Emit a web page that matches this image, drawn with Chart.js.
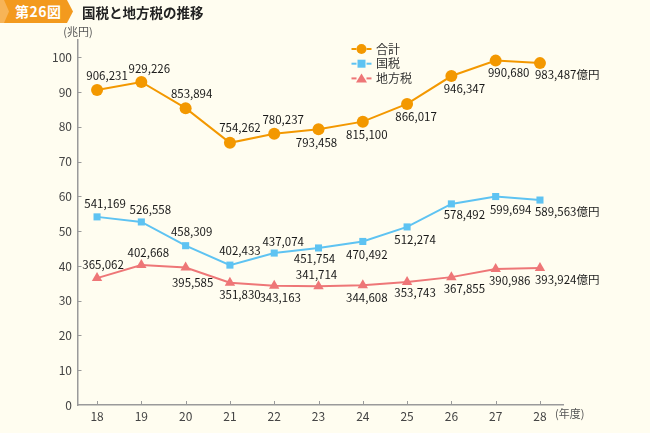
<!DOCTYPE html>
<html lang="ja">
<head>
<meta charset="utf-8">
<script src="https://cdn.jsdelivr.net/npm/chart.js@4.4.1/dist/chart.umd.min.js"></script>
<style>
  html, body { margin: 0; padding: 0; background: #FFFDF0; }
  #wrap { position: relative; width: 650px; height: 433px; overflow: hidden; background: #FFFDF0; font-family: "Noto Sans CJK JP", "Noto Sans", sans-serif; }
  #banner { position: absolute; left: 0; top: 0; width: 73px; height: 23px; background: #F39A1E;
    clip-path: polygon(0 0, 67px 0, 73px 11.5px, 67px 23px, 0 23px); }
  #banner .chev { position: absolute; left: 0; top: 0; width: 10px; height: 23px; background: #F7B457;
    clip-path: polygon(0 0, 4px 0, 9px 11.5px, 4px 23px, 0 23px); }
  #banner span { position: absolute; left: 15px; top: 0; line-height: 23px; color: #fff; font-weight: bold; font-size: 14px; letter-spacing: 0.5px; }
  #title { position: absolute; left: 82px; top: 0; line-height: 24px; font-size: 13.5px; font-weight: bold; color: #222; }
  canvas { position: absolute; left: 0; top: 0; }
</style>
</head>
<body>
<div id="wrap">
  <canvas id="c" width="650" height="433"></canvas>
  <div id="banner"><div class="chev"></div><span>第26図</span></div>
  <div id="title">国税と地方税の推移</div>
</div>
<script>
// ---- data (億円) ----
const years = [18, 19, 20, 21, 22, 23, 24, 25, 26, 27, 28];
const totalTax = [906231, 929226, 853894, 754262, 780237, 793458, 815100, 866017, 946347, 990680, 983487];
const nationalTax = [541169, 526558, 458309, 402433, 437074, 451754, 470492, 512274, 578492, 599694, 589563];
const localTax = [365062, 402668, 395585, 351830, 343163, 341714, 344608, 353743, 367855, 390986, 393924];
const seriesNames = ['合計', '国税', '地方税'];
const yTickValues = [0, 10, 20, 30, 40, 50, 60, 70, 80, 90, 100]; // 兆円
const yUnit = '(兆円)';
const xUnit = '(年度)';
const lastSuffix = '億円';

// ---- label placement (offsets from point, px) ----
const labelOffsets = [
  [[10,-14],[8,-13],[6,-15],[10,-15],[9,-14],[-2,13],[4,13],[9,13],[13,13],[13,12],null],
  [[8,-13],[9,-12],[6,-14],[10,-14],[9,-11],[-4,11],[4,13],[8,13],[13,11],[15,13],null],
  [[6,-13],[7,-12],[7,15],[10,12],[6,12],[-2,-12],[4,12],[8,11],[13,11],[14,12],null]
];

const colors = ['#F39800', '#5EC3F2', '#EE7677'];
const FONT = '"Noto Sans CJK JP", "Noto Sans", sans-serif';

function toPts(arr) { return years.map((y, i) => ({ x: y, y: arr[i] })); }

const labelPlugin = {
  id: 'labels',
  afterDatasetsDraw(chart) {
    const ctx = chart.ctx;
    ctx.save();
    ctx.font = '11.5px ' + FONT;
    ctx.fillStyle = '#1a1a1a';
    ctx.textBaseline = 'middle';
    chart.data.datasets.forEach((ds, di) => {
      const meta = chart.getDatasetMeta(di);
      meta.data.forEach((pt, i) => {
        const v = ds.data[i].y;
        const txt = v.toLocaleString('en-US');
        const off = labelOffsets[di][i];
        if (off) {
          ctx.textAlign = 'center';
          ctx.fillText(txt, pt.x + off[0], pt.y + off[1]);
        } else {
          ctx.textAlign = 'left';
          ctx.fillText(txt + lastSuffix, pt.x - 5, pt.y + 12);
        }
      });
    });
    ctx.restore();
  },
  afterDraw(chart) {
    const ctx = chart.ctx;
    const xs = chart.scales.x, ys = chart.scales.y;
    ctx.save();
    // tick marks (inside)
    ctx.strokeStyle = '#9a9a9a';
    ctx.lineWidth = 1;
    yTickValues.forEach(v => {
      if (v === 0) return;
      const py = Math.round(ys.getPixelForValue(v * 10000)) + 0.5;
      ctx.beginPath(); ctx.moveTo(xs.left, py); ctx.lineTo(xs.left + 3.5, py); ctx.stroke();
    });
    years.forEach(v => {
      const px = Math.round(xs.getPixelForValue(v)) + 0.5;
      ctx.beginPath(); ctx.moveTo(px, ys.bottom); ctx.lineTo(px, ys.bottom - 4); ctx.stroke();
    });
    // units
    ctx.font = '11px ' + FONT;
    ctx.fillStyle = '#555';
    ctx.textBaseline = 'middle';
    ctx.textAlign = 'center';
    ctx.fillText(yUnit, 78, 32);
    ctx.textAlign = 'left';
    ctx.fillText(xUnit, 555, 414);
    // legend
    const lx = 361.5, ly0 = 49, step = 14.7;
    chart.data.datasets.forEach((ds, di) => {
      const y = ly0 + di * step;
      ctx.strokeStyle = ds.borderColor;
      ctx.lineWidth = 2;
      ctx.beginPath(); ctx.moveTo(lx - 10, y); ctx.lineTo(lx - 5, y); ctx.stroke();
      ctx.beginPath(); ctx.moveTo(lx + 5, y); ctx.lineTo(lx + 10, y); ctx.stroke();
      ctx.fillStyle = ds.borderColor;
      ctx.beginPath();
      if (di === 0) { ctx.arc(lx, y, 5, 0, Math.PI * 2); }
      else if (di === 1) { ctx.rect(lx - 4, y - 4, 8, 8); }
      else { ctx.moveTo(lx, y - 5); ctx.lineTo(lx + 5.5, y + 4); ctx.lineTo(lx - 5.5, y + 4); ctx.closePath(); }
      ctx.fill();
      ctx.fillStyle = '#333';
      ctx.font = '12px ' + FONT;
      ctx.textAlign = 'left';
      ctx.fillText(ds.label, 376, y);
    });
    ctx.restore();
  }
};

const mk = (label, arr, color, style, radius) => ({
  label, data: toPts(arr), borderColor: color, backgroundColor: color,
  pointBackgroundColor: color, pointBorderColor: color, pointBorderWidth: 0,
  pointStyle: style, pointRadius: radius, pointHoverRadius: radius,
  borderWidth: 2, tension: 0, clip: false
});

new Chart(document.getElementById('c'), {
  type: 'line',
  data: {
    datasets: [
      mk(seriesNames[0], totalTax, colors[0], 'circle', 6),
      mk(seriesNames[1], nationalTax, colors[1], 'rect', 5),
      mk(seriesNames[2], localTax, colors[2], 'triangle', 6)
    ]
  },
  options: {
    responsive: false,
    animation: false,
    events: [],
    layout: { padding: { left: 0, top: 40, right: 87, bottom: 0 } },
    plugins: { legend: { display: false }, tooltip: { enabled: false } },
    scales: {
      x: {
        type: 'linear', min: 17.57, max: 28.52,
        afterBuildTicks: s => { s.ticks = years.map(v => ({ value: v })); },
        afterFit: s => { s.height = 28; },
        grid: { display: false, drawTicks: false },
        border: { display: true, color: '#9a9a9a', width: 1.5 },
        ticks: { padding: 4, color: '#444', font: { family: FONT, size: 12 }, maxRotation: 0, autoSkip: false,
                 callback: v => String(v) }
      },
      y: {
        type: 'linear', min: 0, max: 1050000,
        afterBuildTicks: s => { s.ticks = yTickValues.map(v => ({ value: v * 10000 })); },
        afterFit: s => { s.width = 78; },
        grid: { display: false, drawTicks: false },
        border: { display: true, color: '#9a9a9a', width: 1.5 },
        ticks: { padding: 6, color: '#444', font: { family: FONT, size: 12 }, autoSkip: false,
                 callback: v => String(v / 10000) }
      }
    }
  },
  plugins: [labelPlugin]
});
</script>
</body>
</html>
